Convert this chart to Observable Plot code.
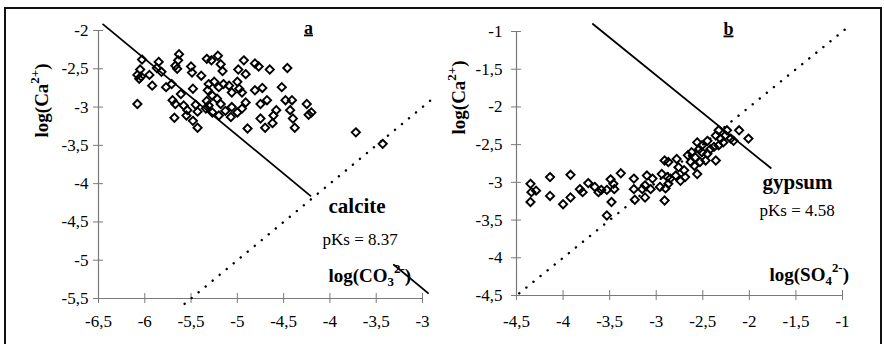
<!DOCTYPE html>
<html>
<head>
<meta charset="utf-8">
<script src="https://cdn.jsdelivr.net/npm/d3@7"></script>
<script src="https://cdn.jsdelivr.net/npm/@observablehq/plot@0.6"></script>
<style>
  html, body { margin: 0; padding: 0; background: #fff; }
  #wrap { position: relative; width: 884px; height: 344px; overflow: hidden; background: #fff; }
  .panel { position: absolute; top: 0; }
  #frame { position: absolute; left: 4px; top: 7px; width: 878px; height: 340px; box-sizing: border-box;
           border-top: 2px solid #111; border-left: 2px solid #111; border-right: 2px solid #111; pointer-events: none; }
</style>
</head>
<body>
<div id="wrap">
  <div id="left" class="panel" style="left:0px"></div>
  <div id="right" class="panel" style="left:442px"></div>
  <div id="frame"></div>
</div>
<script>
// ---------- data ----------
// Panel a : calcite
const calciteX = [-6.03,-6.05,-6.08,-6.04,-6.06,-5.95,-5.92,-6.08,-5.85,-5.87,-5.82,-5.77,-5.71,-5.70,-5.67,-5.61,-5.63,-5.64,-5.67,-5.65,-5.50,-5.49,-5.39,-5.48,-5.58,-5.54,-5.45,-5.43,-5.55,-5.68,-5.48,-5.43,-5.33,
  -5.21,-5.28,-5.18,-5.16,-4.93,-4.99,-4.91,-4.81,-4.77,-4.65,-4.46,-5.31,-5.25,-5.20,-5.15,-5.09,-5.06,-5.00,-4.98,-4.95,-5.27,-5.22,-5.31,-5.18,-5.13,-5.06,-5.00,-4.95,-4.91,-5.27,-5.20,-5.07,-4.81,-4.73,-4.52,-4.75,-4.68,-4.48,-4.41,-4.58,-4.75,-4.70,-4.61,-4.62,-4.89,-4.43,-4.40,-4.38,-4.25,-4.23,-4.20,
  -5.32,-5.33,-5.34,-3.72,-3.43];
const calciteY = [-2.38,-2.51,-2.58,-2.60,-2.63,-2.58,-2.72,-2.96,-2.41,-2.49,-2.54,-2.74,-2.70,-2.91,-2.96,-2.83,-2.31,-2.39,-2.46,-2.50,-2.47,-2.55,-2.59,-2.76,-2.98,-3.04,-2.97,-3.06,-3.11,-3.14,-3.18,-3.27,-2.37,
  -2.33,-2.39,-2.44,-2.53,-2.39,-2.51,-2.57,-2.43,-2.47,-2.51,-2.49,-2.70,-2.67,-2.74,-2.70,-2.72,-2.81,-2.67,-2.76,-2.81,-2.85,-2.89,-2.98,-2.96,-3.05,-3.00,-3.07,-3.02,-2.94,-3.07,-3.11,-3.13,-2.78,-2.75,-2.74,-2.96,-2.91,-2.91,-2.91,-3.04,-3.15,-3.27,-3.11,-3.21,-3.28,-3.04,-3.15,-3.27,-2.96,-3.10,-3.07,
  -2.78,-2.92,-3.02,-3.33,-3.48];
const calcitePKs = 8.37;
const calciteSolidSegments = [[-6.45, -4.21], [-3.31, -2.94]];
const calciteDottedRange = [-5.57, -2.9];
const calciteXTicks = [-6.5, -6, -5.5, -5, -4.5, -4, -3.5, -3];
const calciteYTicks = [-5.5, -5, -4.5, -4, -3.5, -3, -2.5, -2];

// Panel b : gypsum
const gypsumX = [-4.35,-4.34,-4.35,-4.29,-4.14,-4.14,-4.00,-3.92,-3.92,-3.82,-3.79,-3.73,-3.66,-3.62,-3.59,-3.53,-3.49,-3.46,-3.45,-3.48,-3.53,-3.38,-3.24,-3.24,-3.23,
  -3.10,-3.04,-3.12,-3.06,-3.15,-3.12,-2.91,-2.87,-2.94,-2.88,-2.96,-2.90,-2.87,-2.91,-2.78,-2.76,-2.70,-2.79,-2.74,-2.69,-2.85,-2.66,-2.62,-2.58,-2.63,-2.59,-2.53,-2.56,-2.47,-2.36,-2.56,-2.51,-2.45,-2.42,-2.51,-2.45,-2.54,-2.36,-2.33,-2.31,-2.26,-2.28,-2.33,-2.38,-2.24,-2.20,-2.17,-2.11,-2.01];
const gypsumY = [-3.02,-3.13,-3.26,-3.11,-2.93,-3.18,-3.29,-2.90,-3.20,-3.09,-3.13,-3.01,-3.06,-3.13,-3.10,-3.10,-2.96,-3.02,-3.09,-3.26,-3.44,-2.88,-2.95,-3.09,-3.23,
  -2.91,-2.95,-3.04,-3.09,-3.09,-3.20,-2.71,-2.73,-2.89,-2.93,-3.06,-3.08,-3.02,-3.24,-2.69,-2.80,-2.84,-2.91,-2.98,-2.93,-2.95,-2.64,-2.60,-2.67,-2.73,-2.78,-2.73,-2.89,-2.71,-2.71,-2.47,-2.51,-2.45,-2.56,-2.60,-2.62,-2.56,-2.38,-2.31,-2.42,-2.38,-2.47,-2.51,-2.53,-2.31,-2.42,-2.45,-2.31,-2.42];
const gypsumPKs = 4.58;
const gypsumSolidSegments = [[-3.68, -1.77]];
const gypsumDottedRange = [-4.47, -0.92];
const gypsumXTicks = [-4.5, -4, -3.5, -3, -2.5, -2, -1.5, -1];
const gypsumYTicks = [-4.5, -4, -3.5, -3, -2.5, -2, -1.5, -1];

// ---------- helpers ----------
const serif = "Liberation Serif";
const axisGray = "#7a7a7a";
const fmt = d => String(d).replace(".", ",");
const pts = (xs, ys) => xs.map((x, i) => ({x, y: ys[i]}));
const solubility = (segments, pKs) => segments.flatMap(([a, b], i) => [{x: a, y: -pKs - a, seg: i}, {x: b, y: -pKs - b, seg: i}]);
const identity = ([a, b]) => [{x: a, y: a}, {x: b, y: b}];

const rich = {
  "log(Ca2+)": [["log(Ca", 0], ["2+", -1], [")", 0]],
  "log(CO32-)": [["log(CO", 0], ["3", 1], ["2-", -1], [")", 0]],
  "log(SO42-)": [["log(SO", 0], ["4", 1], ["2-", -1], [")", 0]]
};
function richify(svg) {
  d3.select(svg).selectAll("text").each(function() {
    const t = this.textContent;
    if (t === "a" || t === "b") { this.style.textDecoration = "underline"; return; }
    const parts = rich[t];
    if (!parts) return;
    const fs = parseFloat(getComputedStyle(this).fontSize) || 18;
    const sel = d3.select(this);
    sel.text(null);
    let cur = 0;
    for (const [s, k] of parts) {
      const target = k > 0 ? 0.25 * fs : k < 0 ? -0.45 * fs : 0;
      const ts = sel.append("tspan").attr("dy", target - cur).text(s);
      if (k !== 0) ts.attr("font-size", (0.68 * fs).toFixed(1));
      cur = target;
    }
  });
}

function panel({xs, ys, pKs, solid, dotted, xTicks, yTicks, xDomain, yDomain, margins, yPad, xPad, letter, letterDx, mineral, mineralDx, mineralDy, pksDx, pksDy, xLabel, xLabelDx, xLabelDy, yLabelDx, yLabelDy}) {
  const [mt, mr, mb, ml] = margins;
  const f = {fontFamily: serif};
  return Plot.plot({
    width: 442, height: 344,
    marginTop: mt, marginRight: mr, marginBottom: mb, marginLeft: ml,
    x: {domain: xDomain, label: null},
    y: {domain: yDomain, label: null},
    style: {fontFamily: serif, fontSize: "17px", background: "transparent", overflow: "visible", color: "black"},
    marks: [
      Plot.ruleX([xDomain[0]], {stroke: axisGray, strokeWidth: 1.2}),
      Plot.ruleY([yDomain[0]], {stroke: axisGray, strokeWidth: 1.2}),
      Plot.axisX(xTicks, {...f, tickSize: 10, dy: -5, tickPadding: xPad, stroke: axisGray, fill: "black", tickFormat: fmt, label: null, fontSize: 17}),
      Plot.axisY(yTicks, {...f, tickSize: 10, dx: 5, tickPadding: yPad, stroke: axisGray, fill: "black", tickFormat: fmt, label: null, fontSize: 17}),
      Plot.line(identity(dotted), {x: "x", y: "y", stroke: "black", strokeWidth: 2.4, strokeDasharray: "0.1 9", strokeLinecap: "round"}),
      Plot.line(solubility(solid, pKs), {x: "x", y: "y", z: "seg", stroke: "black", strokeWidth: 1.8}),
      Plot.dot(pts(xs, ys), {x: "x", y: "y", symbol: "diamond2", r: 3.7, stroke: "black", strokeWidth: 1.9, fill: "none"}),
      Plot.text([letter], {...f, frameAnchor: "top-left", dx: letterDx, dy: 3, lineAnchor: "bottom", textAnchor: "middle", fontWeight: "bold", fontSize: 18}),
      Plot.text([mineral], {...f, frameAnchor: "top-left", dx: mineralDx, dy: mineralDy, lineAnchor: "bottom", textAnchor: "start", fontWeight: "bold", fontSize: 21, letterSpacing: 0.6}),
      Plot.text(["pKs = " + pKs.toFixed(2)], {...f, frameAnchor: "top-left", dx: pksDx, dy: pksDy, lineAnchor: "bottom", textAnchor: "start", fontSize: 17}),
      Plot.text([xLabel], {...f, frameAnchor: "top-left", dx: xLabelDx, dy: xLabelDy, lineAnchor: "bottom", textAnchor: "start", fontWeight: "bold", fontSize: 19}),
      Plot.text(["log(Ca2+)"], {...f, frameAnchor: "top-left", dx: yLabelDx, dy: yLabelDy, lineAnchor: "bottom", textAnchor: "middle", rotate: -90, fontWeight: "bold", fontSize: 19})
    ]
  });
}

const left = panel({
  xs: calciteX, ys: calciteY, pKs: calcitePKs, solid: calciteSolidSegments, dotted: calciteDottedRange,
  xTicks: calciteXTicks, yTicks: calciteYTicks, xDomain: [-6.5, -3], yDomain: [-5.5, -2],
  margins: [30, 20, 46, 98], yPad: 5, xPad: 11,
  letter: "a", letterDx: 210, mineral: "calcite", mineralDx: 230, mineralDy: 182, pksDx: 224, pksDy: 214,
  xLabel: "log(CO32-)", xLabelDx: 230, xLabelDy: 251, yLabelDx: -51, yLabelDy: 70
});
const right = panel({
  xs: gypsumX, ys: gypsumY, pKs: gypsumPKs, solid: gypsumSolidSegments, dotted: gypsumDottedRange,
  xTicks: gypsumXTicks, yTicks: gypsumYTicks, xDomain: [-4.5, -1], yDomain: [-4.5, -1],
  margins: [31, 42, 49, 74], yPad: 9, xPad: 14,
  letter: "b", letterDx: 212, mineral: "gypsum", mineralDx: 246, mineralDy: 157, pksDx: 243, pksDy: 184,
  xLabel: "log(SO42-)", xLabelDx: 253, xLabelDy: 249, yLabelDx: -52, yLabelDy: 66
});
document.getElementById("left").appendChild(left);
document.getElementById("right").appendChild(right);
richify(left);
richify(right);
</script>
</body>
</html>
